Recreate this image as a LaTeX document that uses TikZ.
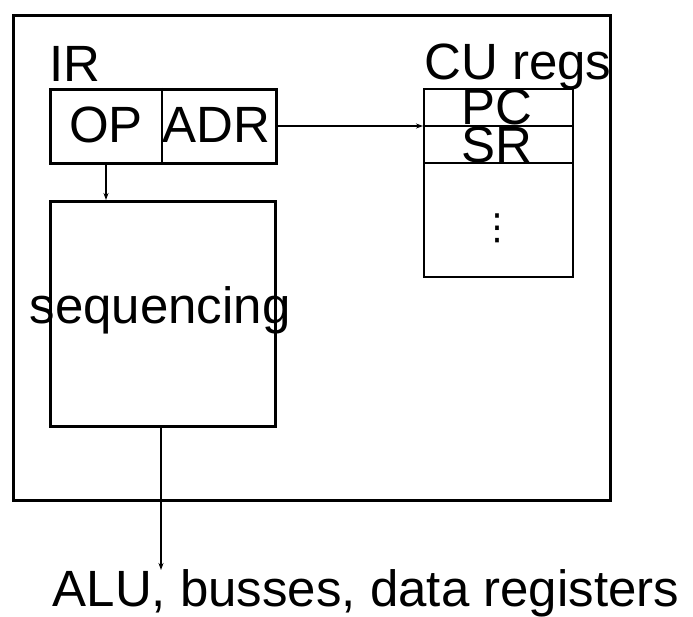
\documentclass[tikz,border=0pt]{standalone}
\usepackage{fontspec}
\setmainfont{Liberation Sans}
\newfontfamily\dotsfont{DejaVu Sans}
\usetikzlibrary{arrows.meta,positioning}

\begin{document}
\begin{tikzpicture}[
      x=1pt, y=-1pt,
      every node/.style={font=\fontsize{51}{60}\selectfont, inner sep=0pt},
      txt/.style={anchor=base},
      regbox/.style={draw, line width=#1, anchor=north west},
      link/.style={-{Stealth[length=7pt, width=5pt]}, line width=1.6pt},
    ]
    \useasboundingbox (0,0) rectangle (693,617);

    % Control unit frame
    \node[regbox=3pt, minimum width=597pt, minimum height=485pt] (cu) at (12,14) {};

    % Instruction register
    \node[txt] (irlbl) at (75,82) {IR};
    \node[regbox=3pt, minimum width=226pt, minimum height=74pt] (ir) at (49,88) {};
    \draw[line width=1.5pt] (162,88) -- (162,162);
    \node[txt] (op) at (106,143) {OP};
    \node[txt] (adr) at (216,143) {ADR};

    % Sequencing block
    \node[regbox=3pt, minimum width=225pt, minimum height=225pt] (seq) at (49,200) {};
    \node[txt] (seqlbl) at (160,324) {sequencing};

    % CU registers
    \node[txt] (cuRegsLbl) at (518,80) {CU regs};
    \node[regbox=2.2pt, minimum width=149pt, minimum height=188pt] (regs) at (423,88) {};
    \draw[line width=2.2pt] (423,126) -- (572,126);
    \draw[line width=2.2pt] (423,163) -- (572,163);
    \node[txt] (pc) at (497,125) {PC};
    \node[txt] (sr) at (497,163) {SR};
    \node[font=\dotsfont\fontsize{36}{36}\selectfont] (dots) at (497,228) {⋮};

    % Target of the sequencing output
    \node[txt] (out) at (366,606) {ALU, busses, data registers};
    \coordinate (outtop) at (161,570);

    % Connections
    \draw[link] (ir.east |- 0,126) -- (regs.west |- 0,126);
    \draw[link] (ir.south -| 106,0) -- (seq.north -| 106,0);
    \draw[link] (seq.south -| 161,0) -- (outtop);
  \end{tikzpicture}
\end{document}
